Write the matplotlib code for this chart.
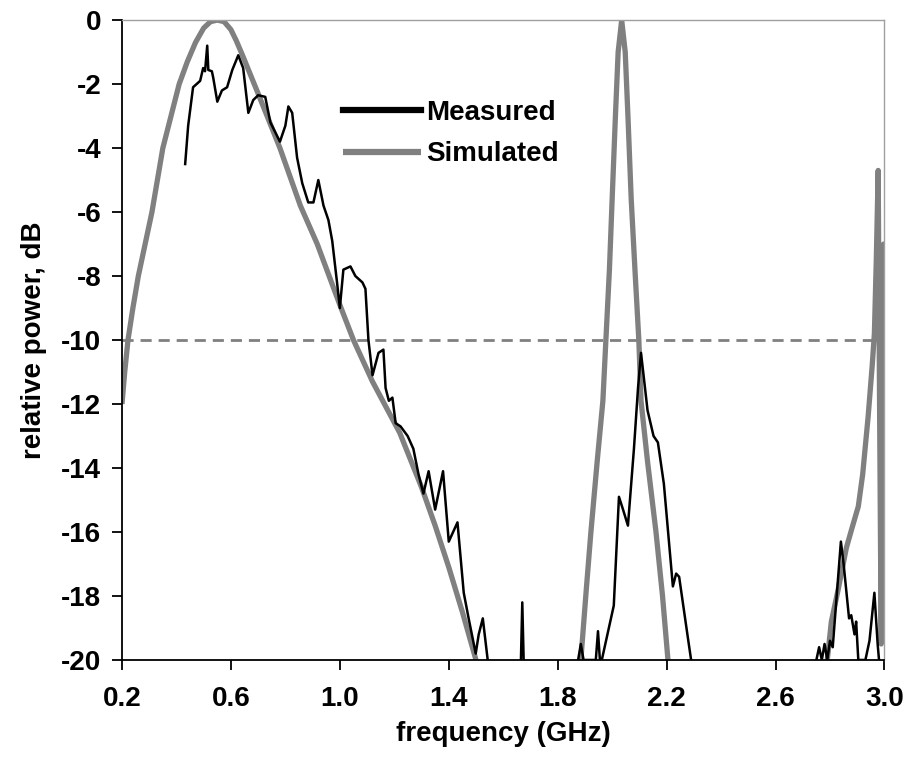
import matplotlib.pyplot as plt
import numpy as np

plt.rcParams['font.family'] = ['Liberation Sans', 'DejaVu Sans']
plt.rcParams['font.weight'] = 'bold'

# simulated response (three lobes)
sim_f1 = [0.2, 0.21, 0.222, 0.24, 0.26, 0.285, 0.31, 0.33, 0.35, 0.38, 0.41, 0.44, 0.47,
          0.5, 0.525, 0.55, 0.575, 0.6, 0.62, 0.645, 0.7, 0.78, 0.855, 0.917, 1.0, 1.05,
          1.12, 1.22, 1.3, 1.35, 1.4, 1.45, 1.5]
sim_db1 = [-12, -11, -10, -9, -8, -7, -6, -5, -4, -3, -2, -1.3, -0.7,
           -0.25, -0.05, 0, -0.05, -0.3, -0.65, -1.15, -2.3, -4, -5.8, -7, -8.9, -10,
           -11.3, -12.9, -14.6, -15.8, -17.1, -18.5, -20]
sim_f2 = [1.885, 1.905, 1.922, 1.945, 1.966, 1.977, 1.99, 2.0, 2.012, 2.022, 2.035,
          2.048, 2.058, 2.07, 2.085, 2.098, 2.106, 2.13, 2.161, 2.185, 2.205]
sim_db2 = [-20, -17.8, -16, -13.8, -11.9, -10, -7.8, -5.6, -3, -1, 0,
           -1, -3, -5.6, -8, -10, -11.9, -13.8, -16, -18, -20]
sim_f3 = [2.79, 2.805, 2.83, 2.86, 2.88, 2.904, 2.92, 2.94, 2.955, 2.963, 2.97, 2.977,
          2.982, 2.988, 2.993, 2.997, 3.0]
sim_db3 = [-20, -18.8, -17.8, -16.5, -15.9, -15.2, -14.2, -12.4, -10.8, -9.8, -7.5, -4.7,
           -12, -19.5, -12, -7, -19]

# measured response
meas_f1 = [0.432, 0.443, 0.461, 0.487, 0.498, 0.505, 0.513, 0.517, 0.53, 0.535, 0.55,
           0.567, 0.586, 0.605, 0.627, 0.645, 0.664, 0.682, 0.70, 0.726, 0.745, 0.78,
           0.80, 0.811, 0.825, 0.843, 0.862, 0.884, 0.903, 0.921, 0.94, 0.958, 0.972,
           0.991, 1.0, 1.013, 1.039, 1.057, 1.083, 1.094, 1.105, 1.12, 1.142, 1.16,
           1.168, 1.18, 1.193, 1.205, 1.223, 1.249, 1.27, 1.289, 1.307, 1.326, 1.35,
           1.379, 1.4, 1.432, 1.455, 1.473, 1.499, 1.51, 1.525, 1.543]
meas_db1 = [-4.5, -3.3, -2.1, -1.9, -1.5, -1.6, -0.8, -1.56, -1.6, -1.8, -2.55,
            -2.2, -2.1, -1.56, -1.1, -1.5, -2.9, -2.5, -2.35, -2.4, -3.2, -3.8,
            -3.3, -2.7, -2.9, -4.3, -5.1, -5.7, -5.7, -5.0, -5.8, -6.25, -6.9,
            -8.3, -9.0, -7.8, -7.7, -8.0, -8.2, -8.4, -10.0, -11.1, -10.4, -10.3,
            -11.5, -11.9, -11.8, -12.6, -12.7, -13.0, -13.4, -14.2, -14.8, -14.1, -15.3,
            -14.1, -16.3, -15.7, -17.9, -18.7, -19.8, -19.2, -18.7, -20]
meas_f_spike = [1.665, 1.670, 1.675]
meas_db_spike = [-20, -18.2, -20]
meas_f2 = [1.875, 1.885, 1.895, 1.94, 1.948, 1.955, 1.962, 2.006, 2.025, 2.04, 2.058,
           2.08, 2.095, 2.106, 2.13, 2.152, 2.168, 2.19, 2.223, 2.235, 2.246, 2.278, 2.29]
meas_db2 = [-20, -19.5, -20, -20, -19.1, -20, -20, -18.3, -14.9, -15.3, -15.8,
            -13.4, -11.5, -10.4, -12.2, -13, -13.2, -14.5, -17.7, -17.3, -17.4, -19.3, -20]
meas_f3 = [2.75, 2.76, 2.77, 2.78, 2.79, 2.80, 2.81, 2.82, 2.84, 2.85, 2.87, 2.878,
           2.89, 2.896, 2.904, 2.93, 2.945, 2.963, 2.975, 2.98]
meas_db3 = [-20, -19.6, -20, -19.5, -20, -19.4, -19.6, -18.5, -16.3, -17, -18.7, -18.6,
            -19.2, -18.8, -20, -20, -19.4, -17.9, -19.5, -20]

x_ticks = [0.2, 0.6, 1.0, 1.4, 1.8, 2.2, 2.6, 3.0]
y_ticks = list(range(-20, 1, 2))

fig = plt.figure(figsize=(9.05, 7.6), dpi=100)
ax = fig.add_axes([0.1348, 0.1316, 0.8425, 0.842])

gray = '#808080'
ax.axhline(-10, color=gray, lw=2, ls=(0, (4, 2.5)), zorder=1)

ax.plot(sim_f1, sim_db1, color=gray, lw=3.8, solid_capstyle='butt', label='Simulated', zorder=2)
ax.plot(sim_f2, sim_db2, color=gray, lw=3.8, solid_capstyle='butt', zorder=2)
ax.plot(sim_f3, sim_db3, color=gray, lw=3.8, solid_capstyle='butt', zorder=2)

ax.plot(meas_f1, meas_db1, color='black', lw=1.8, label='Measured', zorder=3)
ax.plot(meas_f_spike, meas_db_spike, color='black', lw=1.8, zorder=3)
ax.plot(meas_f2, meas_db2, color='black', lw=1.8, zorder=3)
ax.plot(meas_f3, meas_db3, color='black', lw=1.8, zorder=3)

ax.set_xlim(0.2, 3.0)
ax.set_ylim(-20, 0)
ax.set_xticks(x_ticks)
ax.set_xticklabels(['%.1f' % v for v in x_ticks])
ax.set_yticks(y_ticks)
ax.set_yticklabels(['%d' % v for v in y_ticks])
ax.tick_params(direction='out', length=7, width=1.3, labelsize=20, pad=8)
ax.tick_params(axis='x', pad=12)

for s in ['left', 'bottom']:
    ax.spines[s].set_linewidth(1.3)
    ax.spines[s].set_color('black')
for s in ['top', 'right']:
    ax.spines[s].set_linewidth(1.0)
    ax.spines[s].set_color('#a0a0a0')

ax.set_xlabel('frequency (GHz)', fontsize=20, fontweight='bold', labelpad=6)
ax.set_ylabel('relative power, dB', fontsize=20, fontweight='bold', labelpad=10)

handles, labels = ax.get_legend_handles_labels()
leg = ax.legend([handles[1], handles[0]], [labels[1], labels[0]], loc='upper left',
                bbox_to_anchor=(0.29, 0.875), frameon=False, fontsize=20,
                handlelength=2.8, handletextpad=0.2, labelspacing=0.55,
                borderpad=0, borderaxespad=0)
for line in leg.get_lines():
    line.set_linewidth(4.5)

fig.savefig('out.png', dpi=100)
